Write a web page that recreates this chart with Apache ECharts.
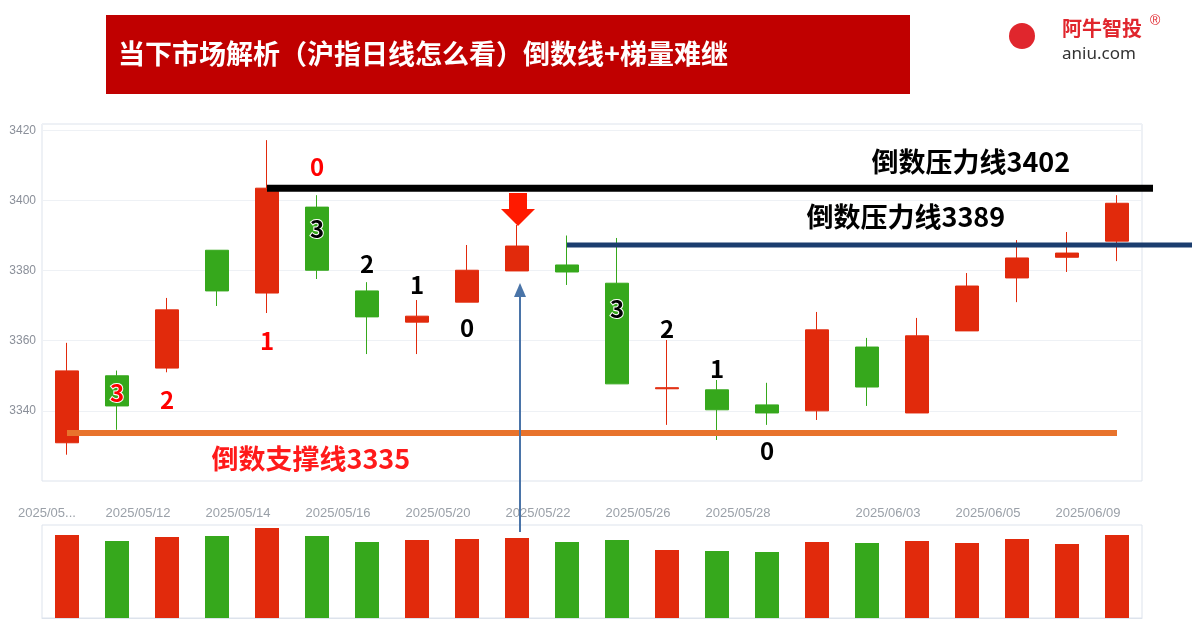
<!DOCTYPE html>
<html lang="zh">
<head>
<meta charset="UTF-8">
<title>倒数线</title>
<script src="https://cdn.jsdelivr.net/npm/echarts@6/dist/echarts.min.js"></script>
<style>html,body{margin:0;padding:0;background:#fff}</style>
</head>
<body>
<div id="chart" style="width:1192px;height:630px"></div>
<script>
    // 日期与K线数据 [开, 收, 低, 高]
    var dates = ['2025/05/09', '2025/05/12', '2025/05/13', '2025/05/14', '2025/05/15', '2025/05/16',
        '2025/05/19', '2025/05/20', '2025/05/21', '2025/05/22', '2025/05/23', '2025/05/26',
        '2025/05/27', '2025/05/28', '2025/05/29', '2025/05/30', '2025/06/03', '2025/06/04',
        '2025/06/05', '2025/06/06', '2025/06/09', '2025/06/10'];
    var shownDates = ['2025/05/12', '2025/05/14', '2025/05/16', '2025/05/20', '2025/05/22', '2025/05/26',
        '2025/05/28', '2025/06/03', '2025/06/05', '2025/06/09'];
    var opens = [3330.9, 3350, 3352.2, 3385.8, 3373.6, 3398.1, 3374.2, 3365.3, 3371, 3379.9, 3381.6,
        3376.4, 3346.3, 3346, 3341.7, 3340, 3358.2, 3339.4, 3362.8, 3377.9, 3383.8, 3388.4];
    var closes = [3351.4, 3341.4, 3368.8, 3374.2, 3403.5, 3380.1, 3366.8, 3367, 3380.1, 3387, 3379.6,
        3347.7, 3346.6, 3340.3, 3339.4, 3363.1, 3346.8, 3361.4, 3375.6, 3383.6, 3385, 3399.2];
    var lows = [3327.5, 3334.6, 3351, 3369.9, 3367.9, 3377.6, 3356.2, 3356.2, 3371, 3379.9, 3375.9,
        3347.7, 3336, 3331.7, 3336, 3337.4, 3341.4, 3339.4, 3362.8, 3371, 3379.6, 3382.7];
    var highs = [3359.4, 3351.5, 3372.2, 3385.8, 3417.2, 3401.5, 3376.7, 3371.6, 3387.3, 3393, 3390,
        3389.3, 3360.2, 3348.8, 3348, 3368.2, 3360.8, 3366.5, 3379.3, 3388.7, 3391, 3401.5];
    var volumes = [83, 77, 81, 82, 90, 82, 76, 78, 79, 80, 76, 78, 68, 67, 66, 76, 75, 77, 75, 79, 74, 83];

    // 倒数标记 [序号, 价格, 文字, 颜色]
    var counts = [
        [5, 3409.5, '0', '#ff0000'], [5, 3391.8, '3', '#000'], [6, 3382, '2', '#000'],
        [7, 3376, '1', '#000'], [8, 3363.6, '0', '#000'], [4, 3360, '1', '#ff0000'],
        [1, 3345, '3', '#ff0000'], [2, 3343, '2', '#ff0000'], [11, 3369, '3', '#000'],
        [12, 3363.3, '2', '#000'], [13, 3352, '1', '#000'], [14, 3328.6, '0', '#000']
    ];

    var RED = '#e12a0c', GREEN = '#36a81c';
    var kdata = [];
    for (var i = 0; i < dates.length; i++) {
        kdata.push([opens[i], closes[i], lows[i], highs[i]]);
    }
    var vdata = [];
    for (var j = 0; j < volumes.length; j++) {
        vdata.push({value: volumes[j], itemStyle: {color: closes[j] >= opens[j] ? RED : GREEN}});
    }
    var countData = counts.map(function (c) {
        return {value: [c[0], c[1]], name: c[2],
            label: {color: c[3]}};
    });

    var myChart = echarts.init(document.getElementById('chart'));
    var option = {
        animation: false,
        grid: [
            {left: 42, right: 50, top: 124, height: 357, show: true, borderColor: '#dde3ec', backgroundColor: '#fff'},
            {left: 42, right: 50, top: 525, height: 93, show: true, borderColor: '#dde3ec'}
        ],
        xAxis: [
            {type: 'category', gridIndex: 0, data: dates, axisLine: {show: false}, axisTick: {show: false},
                axisLabel: {interval: 0, color: '#9aa0a8', fontSize: 13, margin: 26,
                    formatter: function (v, idx) {
                        if (idx === 0) return '{l|2025/05...}';
                        return shownDates.indexOf(v) >= 0 ? '{r|' + v + '}' : '';
                    },
                    rich: {
                        l: {color: '#9aa0a8', fontSize: 13, padding: [0, 40, 0, 0]},
                        r: {color: '#9aa0a8', fontSize: 13, padding: [0, 0, 0, 42]}
                    }}},
            {type: 'category', gridIndex: 1, data: dates, axisLine: {lineStyle: {color: '#dde3ec'}},
                axisTick: {show: false}, axisLabel: {show: false}}
        ],
        yAxis: [
            {type: 'value', gridIndex: 0, min: 3320, max: 3421.8, interval: 20, position: 'left',
                axisLabel: {color: '#8a8f99', fontSize: 12, margin: 6, showMinLabel: false, showMaxLabel: false,
                    formatter: function (v) { return String(v); }},
                splitLine: {lineStyle: {color: '#eef1f5'}}, axisLine: {show: false}},
            {type: 'value', gridIndex: 1, min: 0, max: 93, axisLabel: {show: false},
                splitLine: {show: false}, axisLine: {show: false}}
        ],
        series: [
            {
                type: 'candlestick', data: kdata, barWidth: 24,
                itemStyle: {color: RED, color0: GREEN, borderColor: RED, borderColor0: GREEN},
                markLine: {
                    symbol: 'none', silent: true, label: {show: false},
                    data: [
                        [{coord: [-0.3, 3333.7], lineStyle: {color: '#e8732c', width: 6, type: 'solid'}}, {coord: [20.56, 3333.7]}]
                    ]
                }
            },
            {type: 'bar', xAxisIndex: 1, yAxisIndex: 1, data: vdata, barWidth: 24},
            {
                type: 'scatter', data: countData, symbolSize: 0, z: 10,
                itemStyle: {opacity: 1},
                label: {show: true, position: 'inside', formatter: '{b}', fontSize: 24, fontWeight: 'bold',
                    fontFamily: 'Noto Sans CJK SC', textBorderColor: '#fff', textBorderWidth: 2, opacity: 1}
            }
        ]
    };
    myChart.setOption(option);

    // 压力线：起点用坐标换算
    var p1 = myChart.convertToPixel({gridIndex: 0}, [4.34, 3403.5]);
    var p2 = myChart.convertToPixel({gridIndex: 0}, [10.3, 3387.3]);
    myChart.setOption({
        graphic: [
            {type: 'rect', shape: {x: 106, y: 15, width: 804, height: 79}, style: {fill: '#c00000'}},
            {type: 'text', left: 118, top: 40, style: {text: '当下市场解析（沪指日线怎么看）倒数线+梯量难继',
                fill: '#fff', font: 'bold 27px "Noto Sans CJK SC"'}},
            {type: 'circle', shape: {cx: 1022, cy: 36, r: 13}, style: {fill: '#e0262d'}},
            {type: 'text', left: 1062, top: 18, style: {text: '阿牛智投', fill: '#e0262d', font: 'bold 20px "Noto Sans CJK SC"'}},
            {type: 'text', left: 1150, top: 14, style: {text: '®', fill: '#e0262d', font: '14px sans-serif'}},
            {type: 'text', left: 1062, top: 46, style: {text: 'aniu.com', fill: '#333', font: '17px "Noto Sans"'}},
            {type: 'line', z: 5, shape: {x1: p1[0], y1: p1[1], x2: 1153, y2: p1[1]}, style: {stroke: '#000', lineWidth: 7}},
            {type: 'line', z: 5, shape: {x1: p2[0], y1: p2[1], x2: 1192, y2: p2[1]}, style: {stroke: '#1b3d6e', lineWidth: 5}},
            {type: 'text', z: 6, left: 870, top: 147, style: {text: '倒数压力线3402', fill: '#000',
                font: 'bold 27px "Noto Sans CJK SC"', stroke: '#fff', lineWidth: 3}},
            {type: 'text', z: 6, left: 805, top: 202, style: {text: '倒数压力线3389', fill: '#000',
                font: 'bold 27px "Noto Sans CJK SC"', stroke: '#fff', lineWidth: 3}},
            {type: 'text', z: 6, left: 210, top: 444, style: {text: '倒数支撑线3335', fill: '#ff1a1a',
                font: 'bold 27px "Noto Sans CJK SC"', stroke: '#fff', lineWidth: 3}},
            {type: 'polygon', z: 6, shape: {points: [[509, 193], [527, 193], [527, 209], [535, 209], [518, 226], [501, 209], [509, 209]]},
                style: {fill: '#ff1a00'}},
            {type: 'line', z: 6, shape: {x1: 520, y1: 532, x2: 520, y2: 292}, style: {stroke: '#4a74a8', lineWidth: 2}},
            {type: 'polygon', z: 6, shape: {points: [[520, 283], [514, 297], [526, 297]]}, style: {fill: '#4a74a8'}}
        ]
    });
</script>
</body>
</html>
